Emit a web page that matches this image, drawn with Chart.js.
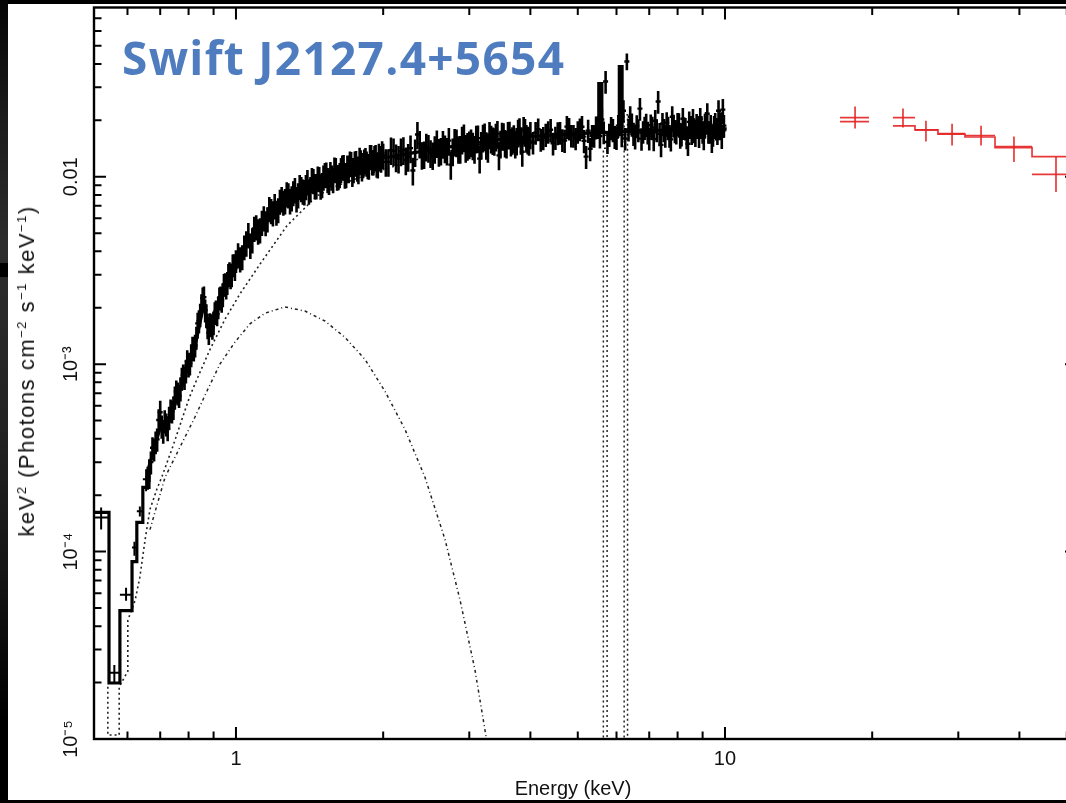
<!DOCTYPE html>
<html>
<head>
<meta charset="utf-8">
<script src="https://cdn.jsdelivr.net/npm/chart.js@4.4.0/dist/chart.umd.min.js"></script>
<style>
  html, body { margin: 0; padding: 0; background: #000; overflow: hidden; width: 1066px; height: 803px; }
  #strip { position: absolute; left: 0; top: 0; width: 8px; height: 803px;
           background: linear-gradient(to bottom, #050505 0px, #1c1c1c 120px, #2c2c2c 240px, #242424 420px, #141414 580px, #000 720px); }
  #notch { position: absolute; left: 0; top: 263px; width: 8px; height: 14px; background: #000; }
  #panel { position: absolute; left: 8px; top: 4px; width: 1100px; height: 796px; background: #fff; }
  #c { position: absolute; left: 0; top: 0; }
  .lbl { position: absolute; font-family: 'Liberation Sans', Arial, sans-serif; font-size: 20px; color: #111; white-space: nowrap; line-height: 20px; }
  .lbl sup { font-size: 13px; vertical-align: 8px; line-height: 0; }
  #title { position: absolute; left: 122px; top: 34px; font: bold 46px 'Open Sans', sans-serif; letter-spacing: 1.3px; color: #4e7cbf; line-height: 1; white-space: nowrap; }
  #xlab { left: 573px; top: 778px; transform: translateX(-50%); }
  #ylab { left: 27px; top: 371px; font-size: 22px; letter-spacing: 1.5px; transform: translate(-50%, -50%) rotate(-90deg); }
</style>
</head>
<body>
<div id="strip"></div>
<div id="notch"></div>
<div id="panel"></div>
<canvas id="c" width="1100" height="803" style="width:1100px;height:803px"></canvas>
<div id="title">Swift J2127.4+5654</div>
<div id="xlab" class="lbl">Energy (keV)</div>
<div id="ylab" class="lbl">keV<sup>2</sup> (Photons cm<sup>−2</sup> s<sup>−1</sup> keV<sup>−1</sup>)</div>
<script>
// ── axes ─────────────────────────────────────────────────────────────────────
const xMin = 0.5125, xMax = 52.46;
const yMin = 1e-5,   yMax = 0.080;
const xMajor = [1, 10];
const xMajorLabels = ['1', '10'];
const xMinor = [0.6, 0.7, 0.8, 0.9, 2, 3, 4, 5, 6, 7, 8, 9, 20, 30, 40, 50];
const yMajor = [1e-5, 1e-4, 1e-3, 0.01];
const yMajorLabels = ['10⁻⁵', '10⁻⁴', '10⁻³', '0.01'];
const yMinor = [2e-5, 3e-5, 4e-5, 5e-5, 6e-5, 7e-5, 8e-5, 9e-5,
                2e-4, 3e-4, 4e-4, 5e-4, 6e-4, 7e-4, 8e-4, 9e-4,
                2e-3, 3e-3, 4e-3, 5e-3, 6e-3, 7e-3, 8e-3, 9e-3,
                0.02, 0.03, 0.04, 0.05, 0.06, 0.07];

// ── XRT: wide low-energy bins ───────────────────────────────────────────────
const lowE    = [0.530, 0.564, 0.596, 0.620, 0.636, 0.655];
const lowELo  = [0.515, 0.550, 0.579, 0.613, 0.627, 0.645];
const lowEHi  = [0.550, 0.579, 0.613, 0.627, 0.645, 0.664];
const lowF    = [1.52e-4, 2.26e-5, 5.89e-5, 1.05e-4, 1.64e-4, 2.43e-4];
const lowFLo  = [1.31e-4, 1.99e-5, 5.47e-5, 9.5e-5, 1.54e-4, 2.1e-4];
const lowFHi  = [1.72e-4, 2.48e-5, 6.41e-5, 1.13e-4, 1.74e-4, 2.75e-4];

// ── XRT: dense spectrum, even channels ──────────────────────────────────────
const xrtE = [
  0.66, 0.67, 0.68, 0.69, 0.70, 0.71, 0.72, 0.73, 0.74, 0.75, 0.76, 0.77, 0.78, 0.79, 0.80, 0.81, 0.82,
  0.83, 0.84, 0.85, 0.86, 0.87, 0.88, 0.89, 0.90, 0.91, 0.92, 0.93, 0.94, 0.95, 0.96, 0.97, 0.98, 0.99, 1.00,
  1.02, 1.04, 1.06, 1.08, 1.10, 1.12, 1.14, 1.16, 1.18, 1.20, 1.22, 1.24, 1.26, 1.28, 1.30, 1.32, 1.34,
  1.36, 1.38, 1.40, 1.42, 1.44, 1.46, 1.48, 1.50, 1.52, 1.54, 1.56, 1.58, 1.60, 1.62, 1.64, 1.66, 1.68,
  1.70, 1.72, 1.74, 1.76, 1.78, 1.80, 1.82, 1.84, 1.86, 1.88, 1.90, 1.92, 1.94, 1.96, 1.98, 2.00,
  2.05, 2.10, 2.15, 2.20, 2.25, 2.30, 2.35, 2.40, 2.45, 2.50, 2.55, 2.60, 2.65, 2.70, 2.75, 2.80, 2.85,
  2.90, 2.95, 3.00, 3.05, 3.10, 3.15, 3.20, 3.25, 3.30, 3.35, 3.40, 3.45, 3.50, 3.55, 3.60, 3.65, 3.70,
  3.75, 3.80, 3.85, 3.90, 3.95, 4.00,
  4.1, 4.2, 4.3, 4.4, 4.5, 4.6, 4.7, 4.8, 4.9, 5.0, 5.1, 5.2, 5.3, 5.4, 5.5, 5.6, 5.7, 5.8, 5.9, 6.0,
  6.1, 6.2, 6.3, 6.4, 6.5, 6.6, 6.7, 6.8, 6.9, 7.0, 7.1, 7.2, 7.3, 7.4, 7.5, 7.6, 7.7, 7.8, 7.9, 8.0,
  8.1, 8.2, 8.3, 8.4, 8.5, 8.6, 8.7, 8.8, 8.9, 9.0, 9.1, 9.2, 9.3, 9.4, 9.5, 9.6, 9.7, 9.8, 9.9
];
const xrtF = [
  0.000249, 0.000300, 0.000351, 0.000397, 0.000554, 0.000438, 0.000478, 0.000520, 0.000561, 0.000665,
  0.000700, 0.000736, 0.000874, 0.000918, 0.000988, 0.00112, 0.00120, 0.00139, 0.00170, 0.00207,
  0.00228, 0.00183, 0.00147, 0.00162, 0.00166, 0.00192, 0.00202, 0.00228, 0.00234, 0.00268,
  0.00272, 0.00307, 0.00299, 0.00339, 0.00356,
  0.00364, 0.00422, 0.00490, 0.00460, 0.00540, 0.00521, 0.00603, 0.00596, 0.00659, 0.00700,
  0.00667, 0.00763, 0.00744, 0.00801, 0.00772, 0.00852, 0.00801, 0.00863, 0.00832, 0.00941,
  0.00863, 0.00953, 0.00896, 0.00976, 0.00907, 0.01025, 0.00964, 0.01038, 0.00964, 0.0109,
  0.0100, 0.0109, 0.01132, 0.01025, 0.0109, 0.01174, 0.0109, 0.01189, 0.01077, 0.0120,
  0.0116, 0.01233, 0.01145, 0.01279, 0.0120, 0.01263, 0.0117, 0.0130, 0.0124, 0.0130,
  0.0120, 0.0137, 0.0125, 0.0139, 0.0128, 0.0108, 0.0168, 0.0131, 0.0145, 0.0134,
  0.0141, 0.0136, 0.0150, 0.0138, 0.0116, 0.0154, 0.0141, 0.0158, 0.0143, 0.0149,
  0.0147, 0.0160, 0.0125, 0.0162, 0.0148, 0.0168, 0.0157, 0.0164, 0.0130, 0.0166,
  0.0152, 0.0168, 0.0154, 0.0161, 0.0156, 0.0176, 0.0136, 0.0174, 0.0158, 0.0168,
  0.0172, 0.0158, 0.0168, 0.0178, 0.0162, 0.0172, 0.0156, 0.0181, 0.0166, 0.0174,
  0.0185, 0.0128, 0.0141, 0.0166, 0.0185, 0.0202, 0.0322, 0.0168, 0.0178, 0.0162,
  0.0192, 0.0225, 0.0412, 0.0209, 0.0170, 0.0187, 0.0231, 0.0174, 0.0190, 0.0160,
  0.0183, 0.0199, 0.0252, 0.0148, 0.0178, 0.0194, 0.0166, 0.0209, 0.0176, 0.0192,
  0.0164, 0.0204, 0.0181, 0.0150, 0.0185, 0.0202, 0.0168, 0.0185, 0.0204, 0.0174,
  0.0190, 0.0217, 0.0174, 0.0156, 0.0185, 0.0181, 0.0225, 0.0194, 0.0228
];
const xrtErr = [
  0.000035, 0.000042, 0.000049, 0.000056, 0.000084, 0.000062, 0.000067, 0.000073, 0.000078, 0.000094,
  0.000098, 0.000104, 0.000122, 0.000129, 0.000139, 0.000157, 0.000168, 0.000195, 0.000238, 0.00029,
  0.000319, 0.000256, 0.000206, 0.000227, 0.000232, 0.000269, 0.000283, 0.000319, 0.000328, 0.000375,
  0.000381, 0.00043, 0.000419, 0.000475, 0.000498,
  0.00056, 0.00064, 0.00076, 0.00071, 0.00083, 0.0008, 0.00092, 0.00092, 0.00101, 0.00108,
  0.00102, 0.00118, 0.00115, 0.00123, 0.00119, 0.00132, 0.00123, 0.00133, 0.00129, 0.00146,
  0.00133, 0.00147, 0.00139, 0.0015, 0.0014, 0.00158, 0.00148, 0.0016, 0.00148, 0.00168,
  0.00154, 0.00168, 0.00175, 0.00158, 0.00168, 0.00181, 0.00168, 0.00183, 0.00165, 0.00185,
  0.00179, 0.0019, 0.00176, 0.00197, 0.00185, 0.00195, 0.00181, 0.002, 0.0019, 0.002,
  0.002, 0.0023, 0.0021, 0.00234, 0.00216, 0.00182, 0.0028, 0.0022, 0.00244, 0.00225,
  0.00237, 0.00228, 0.00252, 0.00232, 0.00195, 0.00259, 0.00237, 0.00266, 0.00241, 0.00251,
  0.00246, 0.00269, 0.0021, 0.00272, 0.00249, 0.0028, 0.00263, 0.00276, 0.00218, 0.0028,
  0.00255, 0.0028, 0.00259, 0.0027, 0.00262, 0.00295, 0.00228, 0.00293, 0.00266, 0.0028,
  0.0024, 0.0022, 0.0024, 0.0025, 0.0023, 0.0024, 0.0022, 0.0025, 0.0023, 0.0024,
  0.0026, 0.0018, 0.002, 0.0023, 0.0026, 0.0028, 0.0045, 0.0024, 0.0025, 0.0023,
  0.0027, 0.0031, 0.0042, 0.0029, 0.0024, 0.0026, 0.0032, 0.0024, 0.0027, 0.0022,
  0.0026, 0.0028, 0.0035, 0.0021, 0.0025, 0.0027, 0.0023, 0.0029, 0.0025, 0.0027,
  0.0023, 0.0029, 0.0025, 0.0021, 0.0026, 0.0028, 0.0024, 0.0026, 0.0029, 0.0024,
  0.0027, 0.003, 0.0024, 0.0022, 0.0026, 0.0025, 0.0031, 0.0027, 0.0032
];

// ── XRT: dense spectrum, odd channels ───────────────────────────────────────
const xrtE2 = [
  0.665, 0.675, 0.685, 0.695, 0.705, 0.715, 0.725, 0.735, 0.745, 0.755, 0.765, 0.775, 0.785, 0.795, 0.805,
  0.815, 0.825, 0.835, 0.845, 0.855, 0.865, 0.875, 0.885, 0.895, 0.905, 0.915, 0.925, 0.935, 0.945, 0.955,
  0.965, 0.975, 0.985, 0.995,
  1.01, 1.03, 1.05, 1.07, 1.09, 1.11, 1.13, 1.15, 1.17, 1.19, 1.21, 1.23, 1.25, 1.27, 1.29, 1.31, 1.33,
  1.35, 1.37, 1.39, 1.41, 1.43, 1.45, 1.47, 1.49, 1.51, 1.53, 1.55, 1.57, 1.59, 1.61, 1.63, 1.65, 1.67,
  1.69, 1.71, 1.73, 1.75, 1.77, 1.79, 1.81, 1.83, 1.85, 1.87, 1.89, 1.91, 1.93, 1.95, 1.97, 1.99,
  2.025, 2.075, 2.125, 2.175, 2.225, 2.275, 2.325, 2.375, 2.425, 2.475, 2.525, 2.575, 2.625, 2.675,
  2.725, 2.775, 2.825, 2.875, 2.925, 2.975, 3.025, 3.075, 3.125, 3.175, 3.225, 3.275, 3.325, 3.375,
  3.425, 3.475, 3.525, 3.575, 3.625, 3.675, 3.725, 3.775, 3.825, 3.875, 3.925, 3.975,
  4.05, 4.15, 4.25, 4.35, 4.45, 4.55, 4.65, 4.75, 4.85, 4.95, 5.05, 5.15, 5.25, 5.35, 5.45, 5.55,
  5.65, 5.75, 5.85, 5.95, 6.05, 6.15, 6.25, 6.35, 6.45, 6.55, 6.65, 6.75, 6.85, 6.95, 7.05, 7.15,
  7.25, 7.35, 7.45, 7.55, 7.65, 7.75, 7.85, 7.95, 8.05, 8.15, 8.25, 8.35, 8.45, 8.55, 8.65, 8.75,
  8.85, 8.95, 9.05, 9.15, 9.25, 9.35, 9.45, 9.55, 9.65, 9.75, 9.85, 9.95
];
const xrtF2 = [
  0.000273, 0.000358, 0.000384, 0.000504, 0.000466, 0.000497, 0.000451, 0.000567, 0.000586, 0.000716,
  0.000679, 0.00084, 0.000846, 0.00104, 0.00101, 0.00123, 0.00126, 0.00165, 0.00183, 0.00225,
  0.00194, 0.00158, 0.00164, 0.00157, 0.00188, 0.00185, 0.00225, 0.00219, 0.00266, 0.00257,
  0.003, 0.00292, 0.00338, 0.00323,
  0.00383, 0.00374, 0.00443, 0.0043, 0.0053, 0.00514, 0.00571, 0.00568, 0.00675, 0.00642,
  0.00646, 0.0074, 0.00731, 0.00811, 0.00744, 0.00821, 0.00763, 0.00885, 0.00837, 0.00885,
  0.00837, 0.00964, 0.00896, 0.00982, 0.0089, 0.00994, 0.01032, 0.00946, 0.00994, 0.01097,
  0.00994, 0.01025, 0.01125, 0.01019, 0.01125, 0.01181, 0.01044, 0.01181, 0.01111, 0.01236,
  0.01115, 0.0121, 0.01181, 0.01138, 0.01282, 0.012, 0.01282, 0.01157, 0.01266, 0.01341,
  0.0120, 0.01386, 0.01271, 0.01369, 0.01225, 0.01421, 0.01353, 0.01502, 0.0132, 0.0143,
  0.01304, 0.01511, 0.01378, 0.01421, 0.01558, 0.01369, 0.0153, 0.01412, 0.01626, 0.01465,
  0.0153, 0.01412, 0.01607, 0.01484, 0.01647, 0.0143, 0.01601, 0.01554, 0.01698, 0.01506,
  0.01653, 0.01502, 0.01681, 0.01574, 0.01502, 0.01723, 0.01574, 0.01784, 0.01617, 0.01558,
  0.01524, 0.01795, 0.01613, 0.0174, 0.01508, 0.01711, 0.01574, 0.01851, 0.01661, 0.01603,
  0.01797, 0.01554, 0.01762, 0.01661, 0.01838, 0.01647, 0.01732, 0.01534, 0.01824, 0.01635,
  0.01874, 0.01679, 0.01601, 0.0179, 0.01907, 0.01629, 0.01779, 0.01597, 0.01833, 0.01728,
  0.01886, 0.01589, 0.01776, 0.01694, 0.01919, 0.01657, 0.01828, 0.01582, 0.01882, 0.01728,
  0.01909, 0.0169, 0.0182, 0.01632, 0.01962, 0.01715, 0.01758, 0.01895, 0.01655, 0.01851,
  0.01617, 0.01945, 0.0174, 0.01874, 0.01677, 0.01921, 0.01719, 0.01828, 0.01636, 0.01874
];
const xrtErr2 = [
  0.000038, 0.00005, 0.000053, 0.00007, 0.000066, 0.00007, 0.000063, 0.00008, 0.000083, 0.000101,
  0.000095, 0.000118, 0.000119, 0.000146, 0.000141, 0.000172, 0.000176, 0.000231, 0.000256, 0.000315,
  0.000272, 0.000221, 0.00023, 0.00022, 0.000263, 0.000259, 0.000315, 0.000307, 0.000372, 0.00036,
  0.00042, 0.000409, 0.000473, 0.000452,
  0.00059, 0.00057, 0.00069, 0.00066, 0.00081, 0.0008, 0.00088, 0.00087, 0.00104, 0.00099,
  0.00099, 0.00113, 0.00112, 0.00125, 0.00115, 0.00126, 0.00118, 0.00136, 0.00129, 0.00136,
  0.00129, 0.00148, 0.00139, 0.00151, 0.00137, 0.00153, 0.0016, 0.00146, 0.00153, 0.00169,
  0.00153, 0.00158, 0.00174, 0.00157, 0.00174, 0.00182, 0.00161, 0.00182, 0.00171, 0.0019,
  0.00172, 0.00186, 0.00182, 0.00175, 0.00197, 0.00185, 0.00197, 0.00178, 0.00195, 0.00207,
  0.002, 0.00232, 0.00214, 0.0023, 0.00206, 0.00239, 0.00227, 0.00252, 0.00221, 0.00241,
  0.00218, 0.00253, 0.00231, 0.00239, 0.00262, 0.0023, 0.00258, 0.00237, 0.00273, 0.00246,
  0.00258, 0.00237, 0.0027, 0.00249, 0.00277, 0.00241, 0.00269, 0.0026, 0.00286, 0.00253,
  0.00277, 0.00252, 0.00283, 0.00265, 0.00252, 0.0029, 0.00265, 0.003, 0.00272, 0.00262,
  0.0021, 0.0025, 0.0023, 0.0024, 0.0021, 0.0024, 0.0022, 0.0026, 0.0023, 0.0022,
  0.0025, 0.0022, 0.0025, 0.0023, 0.0026, 0.0023, 0.0024, 0.0021, 0.0026, 0.0023,
  0.0026, 0.0024, 0.0022, 0.0025, 0.0027, 0.0023, 0.0025, 0.0022, 0.0026, 0.0024,
  0.0026, 0.0022, 0.0025, 0.0024, 0.0027, 0.0023, 0.0026, 0.0022, 0.0026, 0.0024,
  0.0027, 0.0024, 0.0025, 0.0023, 0.0027, 0.0024, 0.0025, 0.0027, 0.0023, 0.0026,
  0.0023, 0.0027, 0.0024, 0.0026, 0.0023, 0.0027, 0.0024, 0.0026, 0.0023, 0.0026
];

// ── XRT model (total, thick histogram) ──────────────────────────────────────
const modelE = [0.50, 0.550, 0.550, 0.579, 0.579, 0.613, 0.613, 0.627, 0.627, 0.645, 0.645, 0.664,
  0.664, 0.68, 0.70, 0.72, 0.75, 0.78, 0.80, 0.83, 0.86, 0.875, 0.90, 0.95, 1.00, 1.10, 1.20, 1.35,
  1.50, 1.70, 2.0, 2.5, 3.0, 3.5, 4.0, 5.0, 5.52, 5.52, 5.60, 5.60, 6.08, 6.08, 6.16, 6.16,
  7.0, 8.0, 9.0, 10.08];
const modelF = [1.62e-4, 1.62e-4, 1.99e-5, 1.99e-5, 4.84e-5, 4.84e-5, 8.85e-5, 8.85e-5, 1.43e-4, 1.43e-4, 2.2e-4, 2.2e-4,
  2.85e-4, 3.5e-4, 4.6e-4, 4.6e-4, 6.3e-4, 8.3e-4, 1.0e-3, 1.35e-3, 2.1e-3, 1.6e-3, 1.7e-3, 2.6e-3, 3.5e-3, 5.2e-3, 6.75e-3, 8.4e-3,
  9.65e-3, 0.0110, 0.0126, 0.0139, 0.0150, 0.0159, 0.0164, 0.0170, 0.0172, 0.0314, 0.0314, 0.0172, 0.0173, 0.0387, 0.0387, 0.0174,
  0.0175, 0.0178, 0.0180, 0.0180];

// ── model components ────────────────────────────────────────────────────────
const plE = [0.547, 0.547, 0.577, 0.577, 0.601, 0.601, 0.622, 0.636, 0.652, 0.667, 0.689, 0.706, 0.743, 0.779,
  0.805, 0.832, 0.885, 0.950, 1.019, 1.12, 1.271, 1.464, 1.609, 1.879, 2.378, 3.155, 4.185, 5.552, 7.365, 10.08];
const plF = [1.9e-5, 1.05e-5, 1.05e-5, 1.9e-5, 2.3e-5, 4.3e-5, 5.5e-5, 7.3e-5, 1.16e-4, 1.68e-4, 2.15e-4, 2.52e-4, 3.64e-4, 5.27e-4,
  6.75e-4, 8.3e-4, 1.2e-3, 1.74e-3, 2.37e-3, 3.42e-3, 5.47e-3, 7.9e-3, 8.95e-3, 0.0104, 0.0125, 0.0141, 0.0156, 0.0166, 0.0172, 0.0176];
const bbE = [0.667, 0.716, 0.768, 0.824, 0.872, 0.927, 0.995, 1.068, 1.146, 1.259, 1.384, 1.520, 1.671,
  1.836, 2.017, 2.216, 2.435, 2.676, 2.871, 3.081, 3.261];
const bbF = [1.31e-4, 2.49e-4, 3.6e-4, 5.21e-4, 7.17e-4, 1.0e-3, 1.31e-3, 1.64e-3, 1.87e-3, 2.02e-3, 1.92e-3, 1.70e-3, 1.39e-3,
  1.06e-3, 7.17e-4, 4.49e-4, 2.49e-4, 1.16e-4, 5.54e-5, 2.34e-5, 9.6e-6];
const lineE = [5.64, 5.64, 5.74, 5.74, null, 6.22, 6.22, 6.32, 6.32];
const lineF = [9e-6, 0.0142, 0.0142, 9e-6, null, 9e-6, 0.0214, 0.0214, 9e-6];

// ── BAT ─────────────────────────────────────────────────────────────────────
const batE     = [18.45, 23.12, 25.76, 29.13, 33.39, 38.99, 47.52];
const batELo   = [17.19, 22.06, 24.46, 27.26, 30.96, 35.66, 42.45];
const batEHi   = [19.70, 24.46, 27.26, 30.96, 35.66, 42.45, 53.2];
const batF     = [0.0207, 0.0207, 0.0178, 0.0170, 0.0166, 0.0145, 0.0103];
const batFLo   = [0.0181, 0.0183, 0.0154, 0.0147, 0.0147, 0.0120, 0.0083];
const batFHi   = [0.0237, 0.0231, 0.0199, 0.0192, 0.0187, 0.0164, 0.0128];
const batModel = [0.0197, 0.0187, 0.0178, 0.0169, 0.0163, 0.0143, 0.0128];

// ── builders ────────────────────────────────────────────────────────────────
function vBars(xs, lo, hi) {
  const pts = [];
  xs.forEach((x, i) => pts.push({ x, y: lo[i] }, { x, y: hi[i] }, { x, y: null }));
  return pts;
}
function hBars(ys, lo, hi) {
  const pts = [];
  ys.forEach((y, i) => pts.push({ x: lo[i], y }, { x: hi[i], y }, { x: lo[i], y: null }));
  return pts;
}
const pairs = (xs, ys) => xs.map((x, i) => ({ x, y: ys[i] }));
const minus = (f, e) => f.map((v, i) => v - e[i]);
const plus  = (f, e) => f.map((v, i) => v + e[i]);

const batSteps = [];
batModel.forEach((m, i) => {
  if (i > 0 && batELo[i] !== batEHi[i - 1]) batSteps.push({ x: batELo[i], y: null });
  batSteps.push({ x: batELo[i], y: m }, { x: batEHi[i], y: m });
});

const BLACK = '#000';
const RED = 'rgba(228,36,36,0.9)';
const seg = (data, color, width, dash) => ({
  data, showLine: true, spanGaps: false, pointRadius: 0, borderColor: color,
  borderWidth: width, borderDash: dash || [], tension: 0, fill: false
});
const marks = data => ({ data, pointStyle: 'line', pointRadius: 2.5, borderWidth: 2.4, borderColor: BLACK, showLine: false });

const datasets = [
  seg(vBars(xrtE, minus(xrtF, xrtErr), plus(xrtF, xrtErr)), BLACK, 2.6),
  seg(vBars(xrtE2, minus(xrtF2, xrtErr2), plus(xrtF2, xrtErr2)), BLACK, 2.6),
  marks(pairs(xrtE, xrtF)),
  marks(pairs(xrtE2, xrtF2)),
  seg(vBars(lowE, lowFLo, lowFHi), BLACK, 2),
  seg(hBars(lowF, lowELo, lowEHi), BLACK, 2),
  seg(pairs(modelE, modelF), BLACK, 3.2),
  seg(pairs(plE, plF), '#222', 1.6, [2, 3]),
  seg(pairs(bbE, bbF), '#222', 1.5, [3, 3, 1, 3]),
  seg(pairs(lineE, lineF), '#222', 1.5, [2, 3]),
  seg(vBars(batE, batFLo, batFHi), RED, 1.7),
  seg(hBars(batF, batELo, batEHi), RED, 1.7),
  seg(batSteps, RED, 1.7)
];

// ── frame with inward ticks on all four sides ───────────────────────────────
const frameTicks = {
  id: 'frameTicks',
  afterDraw(chart) {
    const { ctx, chartArea: a } = chart;
    const sx = chart.scales.x, sy = chart.scales.y;
    ctx.save();
    ctx.strokeStyle = '#000';
    ctx.lineWidth = 2.4;
    ctx.strokeRect(a.left, a.top, a.right - a.left, a.bottom - a.top);
    ctx.lineWidth = 2;
    ctx.beginPath();
    const xt = (vals, len) => vals.forEach(v => {
      const p = sx.getPixelForValue(v);
      ctx.moveTo(p, a.bottom); ctx.lineTo(p, a.bottom - len);
      ctx.moveTo(p, a.top);    ctx.lineTo(p, a.top + len);
    });
    const yt = (vals, len) => vals.forEach(v => {
      const p = sy.getPixelForValue(v);
      ctx.moveTo(a.left, p);  ctx.lineTo(a.left + len, p);
      ctx.moveTo(a.right, p); ctx.lineTo(a.right - len, p);
    });
    xt(xMajor, 12); xt(xMinor, 7.5);
    yt(yMajor, 12); yt(yMinor, 7.5);
    ctx.stroke();
    ctx.restore();
  }
};

const tickFont = { family: "'Liberation Sans', Arial, sans-serif", size: 20 };

new Chart(document.getElementById('c'), {
  type: 'scatter',
  data: { datasets },
  options: {
    responsive: false,
    animation: false,
    events: [],
    layout: { padding: { top: 7.5, right: 23, left: 0, bottom: 0 } },
    plugins: { legend: { display: false }, tooltip: { enabled: false } },
    scales: {
      x: {
        type: 'logarithmic', min: xMin, max: xMax,
        grid: { display: false, drawTicks: false },
        border: { display: false },
        afterBuildTicks: s => { s.ticks = xMajor.map(v => ({ value: v })); },
        afterFit: s => { s.height = 64; s.paddingLeft = 0; s.paddingRight = 0; },
        ticks: { padding: 8, autoSkip: false, maxRotation: 0, color: '#111', font: tickFont,
                 callback: (v, i) => xMajorLabels[i] }
      },
      y: {
        type: 'logarithmic', min: yMin, max: yMax,
        grid: { display: false, drawTicks: false },
        border: { display: false },
        afterBuildTicks: s => { s.ticks = yMajor.map(v => ({ value: v })); },
        afterFit: s => { s.width = 94; s.paddingTop = 0; s.paddingBottom = 0; },
        ticks: { padding: 3, autoSkip: false, minRotation: 90, maxRotation: 90, crossAlign: 'center',
                 color: '#111', font: tickFont, callback: (v, i) => yMajorLabels[i] }
      }
    }
  },
  plugins: [frameTicks]
});
</script>
</body>
</html>
